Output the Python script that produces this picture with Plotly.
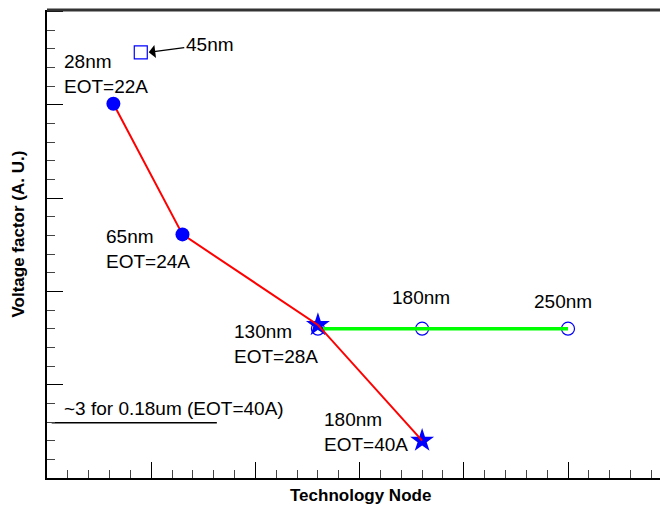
import plotly.graph_objects as go

# Data (x = technology node / 50, y = voltage factor in A.U.)
red_nodes = ["28nm", "65nm", "130nm", "180nm"]
red_x = [0.637, 1.30, 2.60, 3.60]
red_y = [4.01, 2.61, 1.64, 0.40]

green_nodes = ["130nm", "180nm", "250nm"]
green_x = [2.60, 3.60, 5.00]
green_y = [1.60, 1.60, 1.60]

sq_x = [0.90]
sq_y = [4.56]

ref_line_x = [0.045, 1.63]
ref_line_y = [0.593, 0.593]

BLUE = "#0000ff"
FONT = "Liberation Sans, Arial, sans-serif"

fig = go.Figure()

# open circles, then green line over them
fig.add_trace(go.Scatter(x=green_x, y=green_y, mode="markers",
                         marker=dict(symbol="circle-open", size=13, color=BLUE,
                                     line=dict(width=1.2, color=BLUE)),
                         showlegend=False, hoverinfo="skip"))
fig.add_trace(go.Scatter(x=green_x, y=green_y, mode="lines",
                         line=dict(color="#00ff00", width=3.5),
                         showlegend=False, hoverinfo="skip"))

# stars
fig.add_trace(go.Scatter(x=red_x[2:], y=red_y[2:], mode="markers",
                         marker=dict(symbol="star", size=18, color=BLUE),
                         showlegend=False))
# red line
fig.add_trace(go.Scatter(x=red_x, y=red_y, mode="lines",
                         line=dict(color="#ff0000", width=2),
                         showlegend=False))
# filled circles
fig.add_trace(go.Scatter(x=red_x[:2], y=red_y[:2], mode="markers",
                         marker=dict(symbol="circle", size=14, color=BLUE),
                         showlegend=False))

fig.add_trace(go.Scatter(x=sq_x, y=sq_y, mode="markers",
                         marker=dict(symbol="square-open", size=13, color=BLUE,
                                     line=dict(width=1.2, color=BLUE)),
                         showlegend=False))

fig.add_trace(go.Scatter(x=ref_line_x, y=ref_line_y, mode="lines",
                         line=dict(color="black", width=1.5),
                         showlegend=False))

tf = dict(family=FONT, size=19, color="black")

def lab(x, y, text, xanchor="left"):
    fig.add_annotation(x=x, y=y, xref="x", yref="y", text=text, showarrow=False,
                       xanchor=xanchor, yanchor="middle", align="left", font=tf)

lab(0.141, 4.334, "28nm<br>EOT=22A")
lab(0.544, 2.45, "65nm<br>EOT=24A")
lab(1.773, 1.438, "130nm<br>EOT=28A")
lab(2.636, 0.495, "180nm<br>EOT=40A")
lab(0.141, 0.75, "~3 for 0.18um (EOT=40A)")
lab(3.587, 1.932, "180nm", xanchor="center")
lab(4.949, 1.896, "250nm", xanchor="center")

fig.add_annotation(x=0.967, y=4.56, xref="x", yref="y", text="45nm",
                   showarrow=True, ax=62, ay=-8, arrowhead=1, arrowsize=1.8,
                   arrowwidth=1.2, arrowcolor="black", standoff=1, font=tf)

# axis titles (paper coords relative to the plot area)
fig.add_annotation(x=(360.5 - 47) / 613, y=(478 - 495) / 468, xref="paper", yref="paper",
                   text="<b>Technology Node</b>", showarrow=False,
                   xanchor="center", yanchor="middle",
                   font=dict(family=FONT, size=17, color="black"))
fig.add_annotation(x=(18.5 - 47) / 613, y=(478 - 234) / 468, xref="paper", yref="paper",
                   text="<b>Voltage factor (A. U.)</b>", showarrow=False, textangle=-90,
                   xanchor="center", yanchor="middle",
                   font=dict(family=FONT, size=17, color="black"))

axis_common = dict(showgrid=False, zeroline=False, showticklabels=False,
                   ticks="inside", dtick=1, tick0=0, ticklen=16, tickwidth=1.3,
                   tickcolor="black", showline=True, linecolor="black", linewidth=2,
                   minor=dict(ticks="inside", dtick=0.2, ticklen=8, tickwidth=1,
                              tickcolor="#444444", showgrid=False))

fig.update_xaxes(range=[0, 613 / 104.2], **axis_common)
fig.update_yaxes(range=[0, 468 / 93.33], **axis_common)

fig.add_shape(type="line", xref="paper", yref="paper", x0=0, x1=1, y0=1, y1=1,
              line=dict(color="#333333", width=3))

fig.update_layout(width=660, height=505, margin=dict(l=47, r=0, t=10, b=27),
                  plot_bgcolor="white", paper_bgcolor="white",
                  font=dict(family=FONT))

fig.write_html("out.html", config={"displayModeBar": False},
               post_script="document.body.style.margin='0px';document.body.style.overflow='hidden';")
